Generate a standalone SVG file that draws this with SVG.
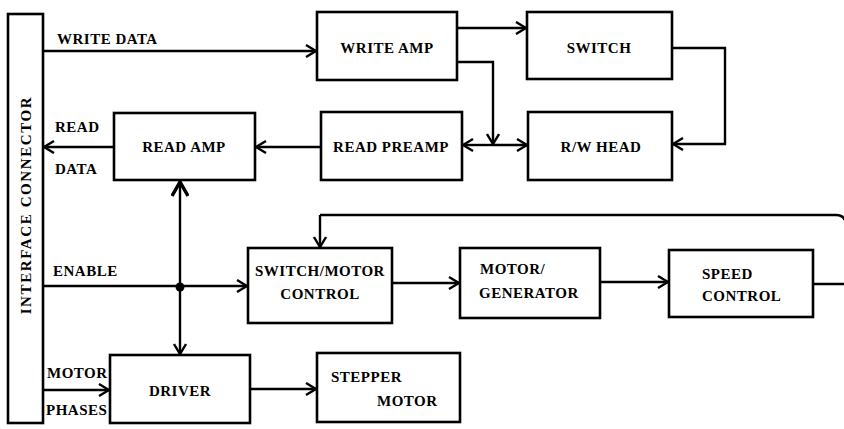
<svg xmlns="http://www.w3.org/2000/svg" width="844" height="429" viewBox="0 0 844 429">
<style>
.box{fill:#fff;stroke:#000;stroke-width:2.6}
.ln{fill:none;stroke:#000;stroke-width:2.4}
.arr{marker-end:url(#ah)}
text{font-family:"Liberation Serif","DejaVu Serif",serif;font-weight:bold;font-size:15px;letter-spacing:0.5px;fill:#000}
.c{text-anchor:middle}
</style>
<defs>
<marker id="ah" viewBox="0 0 12 14" refX="11" refY="7" markerWidth="12" markerHeight="14" markerUnits="userSpaceOnUse" orient="auto">
<path d="M1,1 L11,7 L1,13" fill="none" stroke="#000" stroke-width="2.4"/>
</marker>
<marker id="ahb" viewBox="0 0 16 18" refX="15" refY="9" markerWidth="16" markerHeight="18" markerUnits="userSpaceOnUse" orient="auto">
<path d="M1,1 L15,9 L1,17" fill="none" stroke="#000" stroke-width="3.5"/>
</marker>
</defs>
<rect width="844" height="429" fill="#fff"/>
<g id="connectors">
<path class="ln arr" d="M43,51 H316"/>
<path class="ln arr" d="M457,28 H526"/>
<path class="ln arr" d="M457,62 H493 V144"/>
<path class="ln arr" d="M493,145 H463"/>
<path class="ln arr" d="M493,145 H527"/>
<path class="ln arr" d="M672,48 H725 V144 H673"/>
<path class="ln arr" d="M321,147 H256"/>
<path class="ln arr" d="M114,147 H44"/>
<path class="ln" d="M180,287 V182" marker-end="url(#ahb)"/>
<path class="ln arr" d="M180,287 V354"/>
<path class="ln arr" d="M43,286 H247"/>
<circle cx="180" cy="287" r="4.5" fill="#000"/>
<path class="ln arr" d="M392,283 H459"/>
<path class="ln arr" d="M600,282 H668"/>
<path class="ln" d="M813,284 H846"/>
<path class="ln" d="M846,226 Q846,215 836,215 H320"/>
<path class="ln arr" d="M320,215 V247"/>
<path class="ln arr" d="M250,389 H316"/>
<path class="ln arr" d="M43,390 H109"/>
</g>
<g id="interface-connector">
<rect class="box" x="8" y="14" width="35" height="409"/>
<text class="c" transform="translate(31,205) rotate(-90)" style="font-size:15px;letter-spacing:1.6px">INTERFACE CONNECTOR</text>
</g>
<g id="labels">
<text x="57" y="44">WRITE DATA</text>
<text x="55" y="132">READ</text>
<text x="55" y="174">DATA</text>
<text x="53" y="276">ENABLE</text>
<text x="47" y="378">MOTOR</text>
<text x="46" y="415">PHASES</text>
</g>
<g id="write-amp">
<rect class="box" x="317" y="12" width="140" height="68"/>
<text class="c" x="387" y="53">WRITE AMP</text>
</g>
<g id="switch">
<rect class="box" x="527" y="12" width="145" height="67"/>
<text class="c" x="599" y="53">SWITCH</text>
</g>
<g id="read-amp">
<rect class="box" x="114" y="113" width="141" height="67"/>
<text class="c" x="184" y="152">READ AMP</text>
</g>
<g id="read-preamp">
<rect class="box" x="321" y="112" width="141" height="68"/>
<text class="c" x="391" y="152">READ PREAMP</text>
</g>
<g id="rw-head">
<rect class="box" x="528" y="112" width="144" height="68"/>
<text class="c" x="601" y="152">R/W HEAD</text>
</g>
<g id="switch-motor-control">
<rect class="box" x="248" y="248" width="144" height="75"/>
<text class="c" x="320" y="276">SWITCH/MOTOR</text>
<text class="c" x="320" y="299">CONTROL</text>
</g>
<g id="motor-generator">
<rect class="box" x="460" y="248" width="140" height="70"/>
<text x="480" y="274">MOTOR/</text>
<text x="479" y="298">GENERATOR</text>
</g>
<g id="speed-control">
<rect class="box" x="669" y="250" width="144" height="67"/>
<text x="702" y="279">SPEED</text>
<text x="702" y="301">CONTROL</text>
</g>
<g id="driver">
<rect class="box" x="110" y="355" width="140" height="68"/>
<text class="c" x="180" y="396">DRIVER</text>
</g>
<g id="stepper-motor">
<rect class="box" x="317" y="353" width="143" height="69"/>
<text x="331" y="382">STEPPER</text>
<text x="377" y="406">MOTOR</text>
</g>
</svg>
